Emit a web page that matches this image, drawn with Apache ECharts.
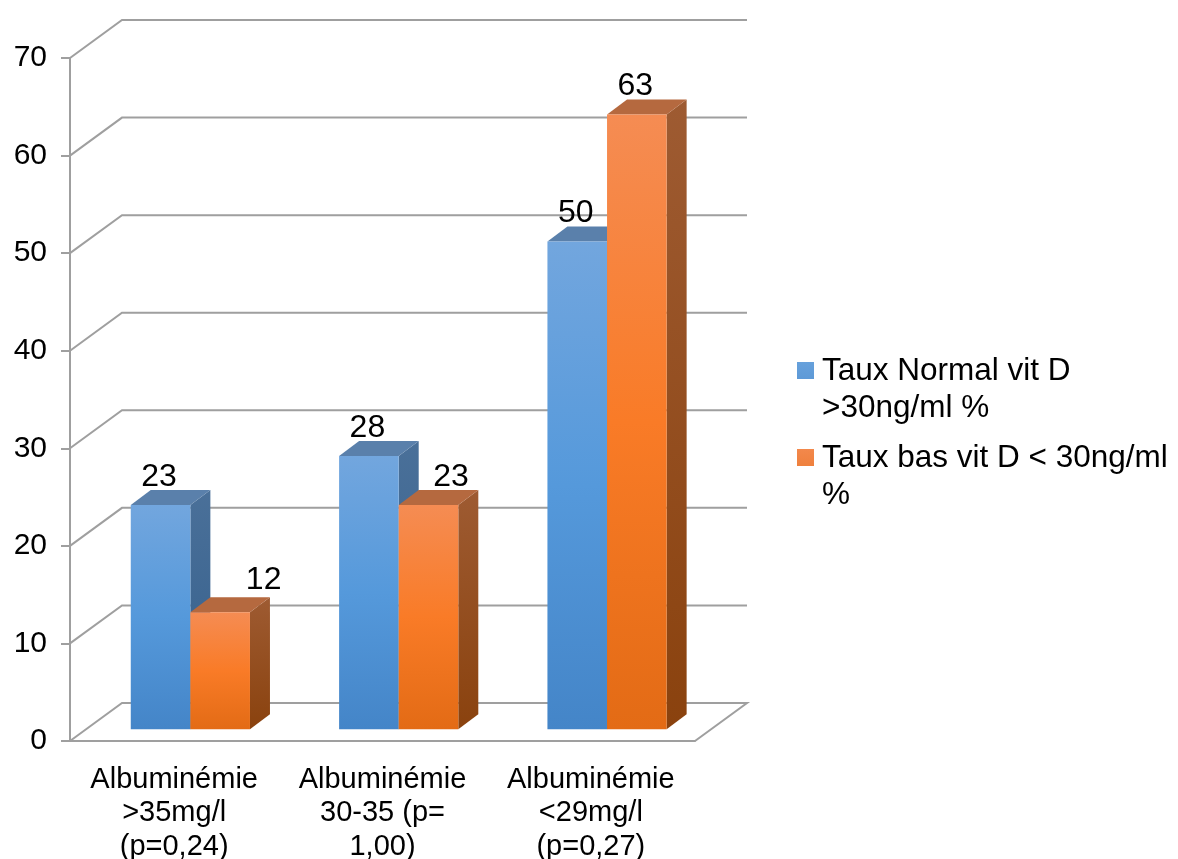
<!DOCTYPE html>
<html>
<head>
<meta charset="utf-8">
<style>html,body{margin:0;padding:0;background:#fff}#c{width:1178px;height:859px}</style>
<script src="https://cdn.jsdelivr.net/npm/echarts@6/dist/echarts.min.js"></script>
</head>
<body>
<div id="c"></div>
<script>
const categories = ['Albuminémie\n>35mg/l\n(p=0,24)', 'Albuminémie\n30-35 (p=\n1,00)', 'Albuminémie\n<29mg/l\n(p=0,27)'];
const normalName = 'Taux Normal vit D >30ng/ml %';
const lowName = 'Taux bas vit D < 30ng/ml %';
const normalValues = [23, 28, 50];
const lowValues = [12, 23, 63];
const gridValues = [0, 10, 20, 30, 40, 50, 60, 70];
const legendLines = {};
legendLines[normalName] = 'Taux Normal vit D\n>30ng/ml %';
legendLines[lowName] = 'Taux bas vit D < 30ng/ml\n%';

const FONT = '"Liberation Sans", Arial, sans-serif';
const GRID_COLOR = '#9F9F9F';
const WALL = { dx: 52, dy: -38 };
const BAR = { dx: 20, dy: -15, lift: 11.7, width: 59.6, centerShift: 16.2 };
// Hand placement of the two labels that the reference pushes aside
const labelShift = { 'low-0': [45, -4], 'low-1': [24, 0] };

function vgrad(stops) {
  return new echarts.graphic.LinearGradient(0, 0, 0, 1,
    stops.map((c, i) => ({ offset: i / (stops.length - 1), color: c })));
}
const palette = {
  normal: {
    front: ['#72A6DE', '#5599DB', '#4485C8'], side: ['#4A7099', '#335E8B'], top: '#5A80AB',
    legend: ['#6BA4DE', '#4586CA']
  },
  low: {
    front: ['#F58C53', '#F97B27', '#E36B15'], side: ['#9E5B32', '#8A420E'], top: '#B5693F',
    legend: ['#F58C53', '#E36B15']
  }
};

function barRenderer(key, first) {
  const pal = palette[key];
  return function (params, api) {
    const idx = api.value(0), val = api.value(1);
    const topPt = api.coord([idx, val]);
    const basePt = api.coord([idx, 0]);
    const cx = topPt[0] + BAR.centerShift;
    const x0 = first ? cx - BAR.width : cx;
    const x1 = x0 + BAR.width;
    const yT = topPt[1] - BAR.lift;
    const yB = basePt[1] - BAR.lift;
    const s = labelShift[key + '-' + idx] || [0, 0];
    return {
      type: 'group',
      children: [
        { type: 'polygon', shape: { points: [[x1, yT], [x1 + BAR.dx, yT + BAR.dy], [x1 + BAR.dx, yB + BAR.dy], [x1, yB]] },
          style: { fill: vgrad(pal.side) } },
        { type: 'polygon', shape: { points: [[x0, yT], [x0 + BAR.dx, yT + BAR.dy], [x1 + BAR.dx, yT + BAR.dy], [x1, yT]] },
          style: { fill: pal.top } },
        { type: 'rect', shape: { x: x0, y: yT, width: BAR.width, height: yB - yT },
          style: { fill: vgrad(pal.front) } },
        { type: 'text', z2: 50,
          style: { text: String(val), x: (x0 + x1) / 2 + s[0] - 1.5, y: yT - 28 + s[1],
            align: 'center', verticalAlign: 'middle', fontFamily: FONT, fontSize: 32, fill: '#000' } }
      ]
    };
  };
}

function gridRenderer(params, api) {
  const v = api.value(1);
  const y = api.coord([0, v])[1];
  const cs = params.coordSys;
  const left = cs.x, right = cs.x + cs.width;
  const pts = [[left, y], [left + WALL.dx, y + WALL.dy], [right + WALL.dx, y + WALL.dy]];
  if (v === 0) pts.push([right, y]);
  return { type: 'polyline', shape: { points: pts },
    style: { stroke: GRID_COLOR, lineWidth: 2, fill: 'none' } };
}

const chart = echarts.init(document.getElementById('c'), null, { renderer: 'canvas' });
chart.setOption({
  animation: false,
  backgroundColor: '#fff',
  grid: { left: 70, right: 483, top: 58, bottom: 118, containLabel: false, outerBoundsMode: 'none' },
  legend: {
    left: 797, top: 353, padding: 0, orient: 'vertical', itemWidth: 17, itemHeight: 74, itemGap: 13,
    icon: 'path://M0,0L0,0M0,9L17,9L17,26L0,26ZM0,74L0,74',
    selectedMode: false,
    textStyle: { fontFamily: FONT, fontSize: 31.5, color: '#000', lineHeight: 37, padding: [0, 0, 0, 3] },
    formatter: n => legendLines[n],
    data: [
      { name: normalName, itemStyle: { color: vgrad(palette.normal.legend) } },
      { name: lowName, itemStyle: { color: vgrad(palette.low.legend) } }
    ]
  },
  xAxis: {
    type: 'category', data: categories,
    axisLine: { lineStyle: { color: GRID_COLOR, width: 2 } },
    axisTick: { alignWithLabel: false, length: 8, lineStyle: { color: GRID_COLOR, width: 2 } },
    axisLabel: { fontFamily: FONT, fontSize: 29, color: '#000', lineHeight: 33.5, margin: 22, interval: 0 },
    splitLine: { show: false }
  },
  yAxis: {
    type: 'value', min: 0, max: 70, interval: 10,
    axisLine: { show: true, lineStyle: { color: GRID_COLOR, width: 2 } },
    axisTick: { show: true, length: 9, lineStyle: { color: GRID_COLOR, width: 2 } },
    axisLabel: { fontFamily: FONT, fontSize: 30, color: '#000', margin: 23 },
    splitLine: { show: false }
  },
  series: [
    { type: 'custom', name: 'grid', silent: true, clip: false, z: 1,
      data: gridValues.map(v => [0, v]), renderItem: gridRenderer,
      encode: { x: 0, y: 1 } },
    { type: 'custom', name: normalName, silent: true, clip: false, z: 3,
      itemStyle: { color: '#5599DB' },
      data: normalValues.map((v, i) => [i, v]), renderItem: barRenderer('normal', true),
      encode: { x: 0, y: 1 } },
    { type: 'custom', name: lowName, silent: true, clip: false, z: 4,
      itemStyle: { color: '#F97B27' },
      data: lowValues.map((v, i) => [i, v]), renderItem: barRenderer('low', false),
      encode: { x: 0, y: 1 } }
  ]
});
</script>
</body>
</html>
